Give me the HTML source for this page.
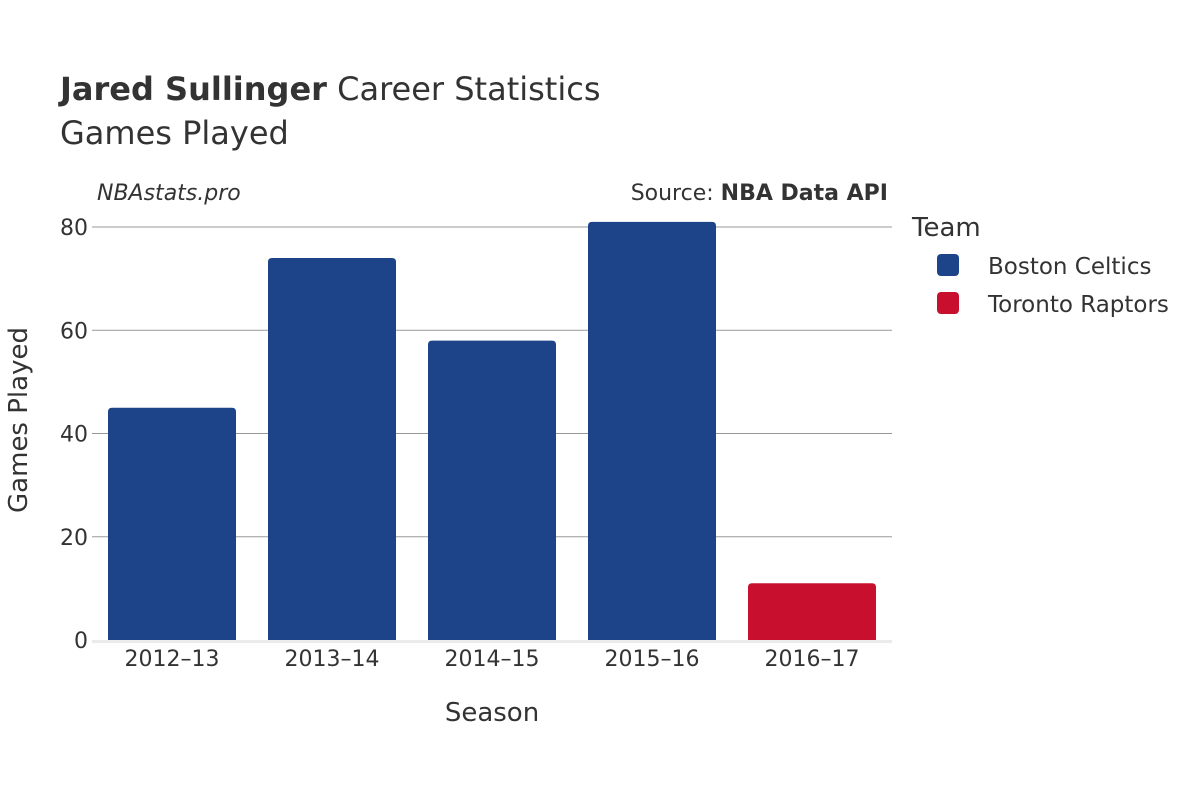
<!DOCTYPE html>
<html><head><meta charset="utf-8"><style>
body{margin:0;background:#fff;}
svg{display:block;font-family:"DejaVu Sans","Liberation Sans",sans-serif;}
</style></head><body>
<svg width="1200" height="800" viewBox="0 0 1200 800">
<text x="60" y="100" font-size="32" fill="#333"><tspan font-weight="bold">Jared Sullinger</tspan> Career Statistics</text>
<text x="60" y="144" font-size="32" fill="#333">Games Played</text>
<text x="97" y="200" font-size="22" font-style="italic" fill="#333">NBAstats.pro</text>
<text x="888" y="200" font-size="22" fill="#333" text-anchor="end">Source: <tspan font-weight="bold">NBA Data API</tspan></text>
<g id="grid"></g>
<g id="bars"></g>
<g id="xticks"></g>
<text x="492" y="721" font-size="26" fill="#333" text-anchor="middle">Season</text>
<text transform="translate(27,420) rotate(-90)" font-size="26" fill="#333" text-anchor="middle">Games Played</text>
<text x="912" y="236" font-size="26" fill="#333">Team</text>
<g><rect x="937" y="254" width="22" height="22" rx="4" fill="#1d4388"/><text x="988" y="274" font-size="23" fill="#333">Boston Celtics</text></g>
<g><rect x="937" y="292" width="22" height="22" rx="4" fill="#c8102e"/><text x="988" y="312" font-size="23" fill="#333">Toronto Raptors</text></g>
</svg>
<script>
const seasons=["2012–13","2013–14","2014–15","2015–16","2016–17"];
const games=[45,74,58,81,11];
const teams=["Boston Celtics","Boston Celtics","Boston Celtics","Boston Celtics","Toronto Raptors"];
const yTicks=[0,20,40,60,80];
const colors={"Boston Celtics":"#1d4388","Toronto Raptors":"#c8102e"};
const NS="http://www.w3.org/2000/svg";
const x0=92,x1=892,y0=640,yTop=227,yMax=80;
const band=(x1-x0)/seasons.length;
const xs=i=>x0+band*i;
const ys=v=>y0-(y0-yTop)*v/yMax;
const grid=document.getElementById('grid');
yTicks.forEach(t=>{
  if(t!==0){const l=document.createElementNS(NS,'line');
  l.setAttribute('x1',x0);l.setAttribute('x2',x1);l.setAttribute('y1',ys(t));l.setAttribute('y2',ys(t));
  l.setAttribute('stroke','#999');l.setAttribute('stroke-width','1');
  
  
  grid.appendChild(l);}
  const tx=document.createElementNS(NS,'text');
  tx.setAttribute('x',x0-4);tx.setAttribute('y',ys(t)+8);tx.setAttribute('text-anchor','end');
  tx.setAttribute('font-size','22');tx.setAttribute('fill','#333');tx.textContent=t;
  
  
  grid.appendChild(tx);
});
const bars=document.getElementById('bars');
games.forEach((v,i)=>{
  const pad=band*0.1,w=band-2*pad,x=xs(i)+pad,y=ys(v),h=y0-y,r=4;
  const p=document.createElementNS(NS,'path');
  p.setAttribute('d',`M${x},${y0}V${y+r}Q${x},${y} ${x+r},${y}H${x+w-r}Q${x+w},${y} ${x+w},${y+r}V${y0}Z`);
  p.setAttribute('fill',colors[teams[i]]);
  
  
  bars.appendChild(p);
});
const z=document.createElementNS(NS,'line');
z.setAttribute('x1',x0);z.setAttribute('x2',x1);z.setAttribute('y1',y0+1.5);z.setAttribute('y2',y0+1.5);
z.setAttribute('stroke','#ebebeb');z.setAttribute('stroke-width','3');


bars.appendChild(z);
const xt=document.getElementById('xticks');
seasons.forEach((s,i)=>{
  const t=document.createElementNS(NS,'text');
  t.setAttribute('x',xs(i)+band/2);t.setAttribute('y',666);t.setAttribute('text-anchor','middle');
  t.setAttribute('font-size','22');t.setAttribute('fill','#333');t.textContent=s;
  
  
  xt.appendChild(t);
});
</script>
</body></html>
